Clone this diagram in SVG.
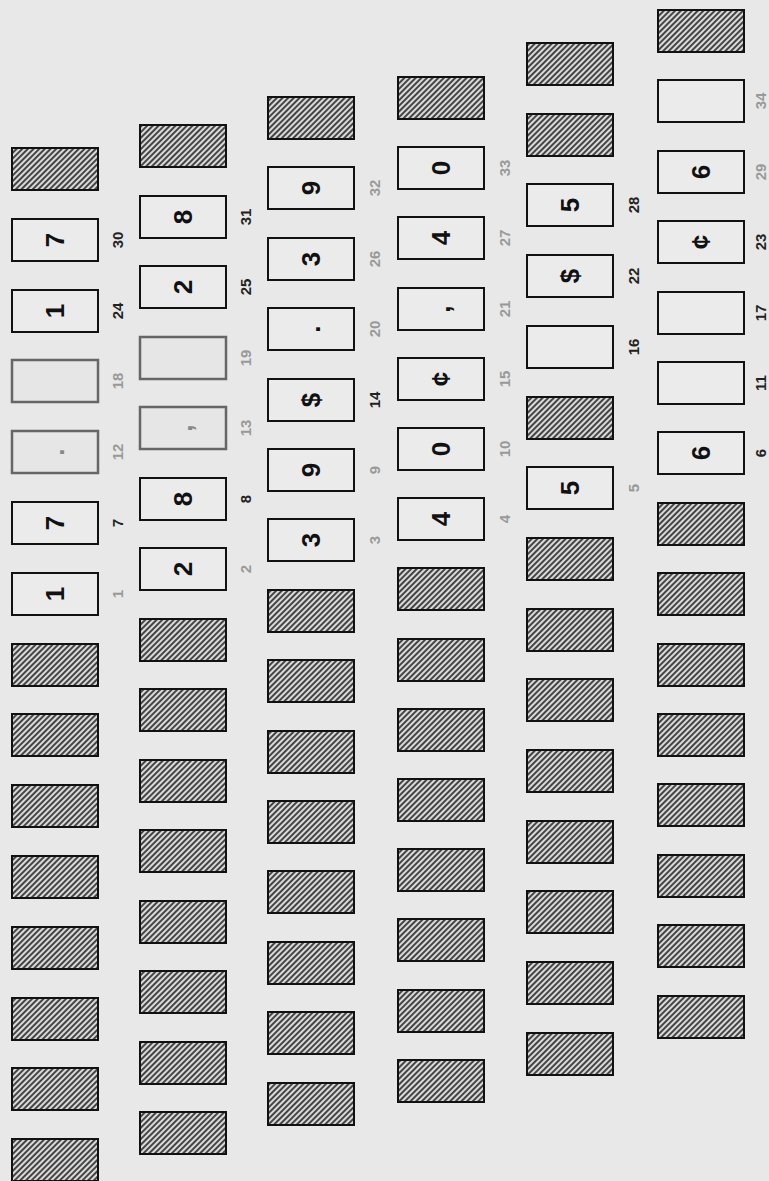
<svg xmlns="http://www.w3.org/2000/svg" width="769" height="1181" viewBox="0 0 769 1181">
<style>
.bg{fill:#e8e8e8}
.h{fill:url(#hatch);stroke:#111;stroke-width:2}
.b{fill:#ebebeb;stroke:#111;stroke-width:2}
.g{fill:#e6e6e6;stroke:#666;stroke-width:2.5}
.d{font-family:"Liberation Sans",Arial,sans-serif;font-weight:bold;font-size:26px;fill:#111;text-anchor:middle;dominant-baseline:central}
.dg{font-family:"Liberation Sans",Arial,sans-serif;font-weight:bold;font-size:26px;fill:#888;text-anchor:middle;dominant-baseline:central}
.l{font-family:"Liberation Sans",Arial,sans-serif;font-weight:bold;font-size:15px;fill:#222;text-anchor:middle;dominant-baseline:central}
.lg{font-family:"Liberation Sans",Arial,sans-serif;font-weight:bold;font-size:15px;fill:#999;text-anchor:middle;dominant-baseline:central}
</style>
<defs>
<pattern id="hatch" patternUnits="userSpaceOnUse" width="4" height="4" patternTransform="rotate(45)">
<rect width="4" height="4" fill="#dadada"/>
<line x1="1" y1="0" x2="1" y2="4" stroke="#2a2a2a" stroke-width="1.7"/>
</pattern>
</defs>
<rect class="bg" x="0" y="0" width="769" height="1181"/>
<g id="connectors"/>

<!-- Column 1 -->
<g id="c1-h0"><rect class="h" x="12" y="148" width="86" height="42"/></g>
<g id="c1-30"><rect class="b" x="12" y="219" width="86" height="42"/><text class="d" x="55" y="240" transform="rotate(-90 55 240)">7</text><text class="l" x="117" y="240" transform="rotate(-90 117 240)">30</text></g>
<g id="c1-24"><rect class="b" x="12" y="290" width="86" height="42"/><text class="d" x="55" y="311" transform="rotate(-90 55 311)">1</text><text class="l" x="117" y="311" transform="rotate(-90 117 311)">24</text></g>
<g id="c1-18"><rect class="g" x="12" y="360" width="86" height="42"/><text class="lg" x="117" y="381" transform="rotate(-90 117 381)">18</text></g>
<g id="c1-12"><rect class="g" x="12" y="431" width="86" height="42"/><text class="dg" x="55" y="452" transform="rotate(-90 55 452)">.</text><text class="lg" x="117" y="452" transform="rotate(-90 117 452)">12</text></g>
<g id="c1-7"><rect class="b" x="12" y="502" width="86" height="42"/><text class="d" x="55" y="523" transform="rotate(-90 55 523)">7</text><text class="l" x="117" y="523" transform="rotate(-90 117 523)">7</text></g>
<g id="c1-1"><rect class="b" x="12" y="573" width="86" height="42"/><text class="d" x="55" y="594" transform="rotate(-90 55 594)">1</text><text class="lg" x="117" y="594" transform="rotate(-90 117 594)">1</text></g>
<g id="c1-h7"><rect class="h" x="12" y="644" width="86" height="42"/></g>
<g id="c1-h8"><rect class="h" x="12" y="714" width="86" height="42"/></g>
<g id="c1-h9"><rect class="h" x="12" y="785" width="86" height="42"/></g>
<g id="c1-h10"><rect class="h" x="12" y="856" width="86" height="42"/></g>
<g id="c1-h11"><rect class="h" x="12" y="927" width="86" height="42"/></g>
<g id="c1-h12"><rect class="h" x="12" y="998" width="86" height="42"/></g>
<g id="c1-h13"><rect class="h" x="12" y="1068" width="86" height="42"/></g>
<g id="c1-h14"><rect class="h" x="12" y="1139" width="86" height="42"/></g>

<!-- Column 2 -->
<g id="c2-h0"><rect class="h" x="140" y="125" width="86" height="42"/></g>
<g id="c2-31"><rect class="b" x="140" y="196" width="86" height="42"/><text class="d" x="183" y="217" transform="rotate(-90 183 217)">8</text><text class="l" x="245" y="217" transform="rotate(-90 245 217)">31</text></g>
<g id="c2-25"><rect class="b" x="140" y="266" width="86" height="42"/><text class="d" x="183" y="287" transform="rotate(-90 183 287)">2</text><text class="l" x="245" y="287" transform="rotate(-90 245 287)">25</text></g>
<g id="c2-19"><rect class="g" x="140" y="337" width="86" height="42"/><text class="lg" x="245" y="358" transform="rotate(-90 245 358)">19</text></g>
<g id="c2-13"><rect class="g" x="140" y="407" width="86" height="42"/><text class="dg" x="183" y="428" transform="rotate(-90 183 428)">,</text><text class="lg" x="245" y="428" transform="rotate(-90 245 428)">13</text></g>
<g id="c2-8"><rect class="b" x="140" y="478" width="86" height="42"/><text class="d" x="183" y="499" transform="rotate(-90 183 499)">8</text><text class="l" x="245" y="499" transform="rotate(-90 245 499)">8</text></g>
<g id="c2-2"><rect class="b" x="140" y="548" width="86" height="42"/><text class="d" x="183" y="569" transform="rotate(-90 183 569)">2</text><text class="lg" x="245" y="569" transform="rotate(-90 245 569)">2</text></g>
<g id="c2-h7"><rect class="h" x="140" y="619" width="86" height="42"/></g>
<g id="c2-h8"><rect class="h" x="140" y="689" width="86" height="42"/></g>
<g id="c2-h9"><rect class="h" x="140" y="760" width="86" height="42"/></g>
<g id="c2-h10"><rect class="h" x="140" y="830" width="86" height="42"/></g>
<g id="c2-h11"><rect class="h" x="140" y="901" width="86" height="42"/></g>
<g id="c2-h12"><rect class="h" x="140" y="971" width="86" height="42"/></g>
<g id="c2-h13"><rect class="h" x="140" y="1042" width="86" height="42"/></g>
<g id="c2-h14"><rect class="h" x="140" y="1112" width="86" height="42"/></g>

<!-- Column 3 -->
<g id="c3-h0"><rect class="h" x="268" y="97" width="86" height="42"/></g>
<g id="c3-32"><rect class="b" x="268" y="167" width="86" height="42"/><text class="d" x="311" y="188" transform="rotate(-90 311 188)">9</text><text class="lg" x="374" y="188" transform="rotate(-90 374 188)">32</text></g>
<g id="c3-26"><rect class="b" x="268" y="238" width="86" height="42"/><text class="d" x="311" y="259" transform="rotate(-90 311 259)">3</text><text class="lg" x="374" y="259" transform="rotate(-90 374 259)">26</text></g>
<g id="c3-20"><rect class="b" x="268" y="308" width="86" height="42"/><text class="d" x="311" y="329" transform="rotate(-90 311 329)">.</text><text class="lg" x="374" y="329" transform="rotate(-90 374 329)">20</text></g>
<g id="c3-14"><rect class="b" x="268" y="379" width="86" height="42"/><text class="d" x="311" y="400" transform="rotate(-90 311 400)">$</text><text class="l" x="374" y="400" transform="rotate(-90 374 400)">14</text></g>
<g id="c3-9"><rect class="b" x="268" y="449" width="86" height="42"/><text class="d" x="311" y="470" transform="rotate(-90 311 470)">9</text><text class="lg" x="374" y="470" transform="rotate(-90 374 470)">9</text></g>
<g id="c3-3"><rect class="b" x="268" y="519" width="86" height="42"/><text class="d" x="311" y="540" transform="rotate(-90 311 540)">3</text><text class="lg" x="374" y="540" transform="rotate(-90 374 540)">3</text></g>
<g id="c3-h7"><rect class="h" x="268" y="590" width="86" height="42"/></g>
<g id="c3-h8"><rect class="h" x="268" y="660" width="86" height="42"/></g>
<g id="c3-h9"><rect class="h" x="268" y="731" width="86" height="42"/></g>
<g id="c3-h10"><rect class="h" x="268" y="801" width="86" height="42"/></g>
<g id="c3-h11"><rect class="h" x="268" y="871" width="86" height="42"/></g>
<g id="c3-h12"><rect class="h" x="268" y="942" width="86" height="42"/></g>
<g id="c3-h13"><rect class="h" x="268" y="1012" width="86" height="42"/></g>
<g id="c3-h14"><rect class="h" x="268" y="1083" width="86" height="42"/></g>

<!-- Column 4 -->
<g id="c4-h0"><rect class="h" x="398" y="77" width="86" height="42"/></g>
<g id="c4-33"><rect class="b" x="398" y="147" width="86" height="42"/><text class="d" x="441" y="168" transform="rotate(-90 441 168)">0</text><text class="lg" x="504" y="168" transform="rotate(-90 504 168)">33</text></g>
<g id="c4-27"><rect class="b" x="398" y="217" width="86" height="42"/><text class="d" x="441" y="238" transform="rotate(-90 441 238)">4</text><text class="lg" x="504" y="238" transform="rotate(-90 504 238)">27</text></g>
<g id="c4-21"><rect class="b" x="398" y="288" width="86" height="42"/><text class="d" x="441" y="309" transform="rotate(-90 441 309)">,</text><text class="lg" x="504" y="309" transform="rotate(-90 504 309)">21</text></g>
<g id="c4-15"><rect class="b" x="398" y="358" width="86" height="42"/><text class="d" x="441" y="379" transform="rotate(-90 441 379)">¢</text><text class="lg" x="504" y="379" transform="rotate(-90 504 379)">15</text></g>
<g id="c4-10"><rect class="b" x="398" y="428" width="86" height="42"/><text class="d" x="441" y="449" transform="rotate(-90 441 449)">0</text><text class="lg" x="504" y="449" transform="rotate(-90 504 449)">10</text></g>
<g id="c4-4"><rect class="b" x="398" y="498" width="86" height="42"/><text class="d" x="441" y="519" transform="rotate(-90 441 519)">4</text><text class="lg" x="504" y="519" transform="rotate(-90 504 519)">4</text></g>
<g id="c4-h7"><rect class="h" x="398" y="568" width="86" height="42"/></g>
<g id="c4-h8"><rect class="h" x="398" y="639" width="86" height="42"/></g>
<g id="c4-h9"><rect class="h" x="398" y="709" width="86" height="42"/></g>
<g id="c4-h10"><rect class="h" x="398" y="779" width="86" height="42"/></g>
<g id="c4-h11"><rect class="h" x="398" y="849" width="86" height="42"/></g>
<g id="c4-h12"><rect class="h" x="398" y="919" width="86" height="42"/></g>
<g id="c4-h13"><rect class="h" x="398" y="990" width="86" height="42"/></g>
<g id="c4-h14"><rect class="h" x="398" y="1060" width="86" height="42"/></g>

<!-- Column 5 -->
<g id="c5-h0"><rect class="h" x="527" y="43" width="86" height="42"/></g>
<g id="c5-h1"><rect class="h" x="527" y="114" width="86" height="42"/></g>
<g id="c5-28"><rect class="b" x="527" y="184" width="86" height="42"/><text class="d" x="570" y="205" transform="rotate(-90 570 205)">5</text><text class="l" x="633" y="205" transform="rotate(-90 633 205)">28</text></g>
<g id="c5-22"><rect class="b" x="527" y="255" width="86" height="42"/><text class="d" x="570" y="276" transform="rotate(-90 570 276)">$</text><text class="l" x="633" y="276" transform="rotate(-90 633 276)">22</text></g>
<g id="c5-16"><rect class="b" x="527" y="326" width="86" height="42"/><text class="l" x="633" y="347" transform="rotate(-90 633 347)">16</text></g>
<g id="c5-h5"><rect class="h" x="527" y="397" width="86" height="42"/></g>
<g id="c5-5"><rect class="b" x="527" y="467" width="86" height="42"/><text class="d" x="570" y="488" transform="rotate(-90 570 488)">5</text><text class="lg" x="633" y="488" transform="rotate(-90 633 488)">5</text></g>
<g id="c5-h7"><rect class="h" x="527" y="538" width="86" height="42"/></g>
<g id="c5-h8"><rect class="h" x="527" y="609" width="86" height="42"/></g>
<g id="c5-h9"><rect class="h" x="527" y="679" width="86" height="42"/></g>
<g id="c5-h10"><rect class="h" x="527" y="750" width="86" height="42"/></g>
<g id="c5-h11"><rect class="h" x="527" y="821" width="86" height="42"/></g>
<g id="c5-h12"><rect class="h" x="527" y="891" width="86" height="42"/></g>
<g id="c5-h13"><rect class="h" x="527" y="962" width="86" height="42"/></g>
<g id="c5-h14"><rect class="h" x="527" y="1033" width="86" height="42"/></g>

<!-- Column 6 -->
<g id="c6-h0"><rect class="h" x="658" y="10" width="86" height="42"/></g>
<g id="c6-34"><rect class="b" x="658" y="80" width="86" height="42"/><text class="lg" x="760" y="101" transform="rotate(-90 760 101)">34</text></g>
<g id="c6-29"><rect class="b" x="658" y="151" width="86" height="42"/><text class="d" x="701" y="172" transform="rotate(-90 701 172)">6</text><text class="lg" x="760" y="172" transform="rotate(-90 760 172)">29</text></g>
<g id="c6-23"><rect class="b" x="658" y="221" width="86" height="42"/><text class="d" x="701" y="242" transform="rotate(-90 701 242)">¢</text><text class="l" x="760" y="242" transform="rotate(-90 760 242)">23</text></g>
<g id="c6-17"><rect class="b" x="658" y="292" width="86" height="42"/><text class="l" x="760" y="313" transform="rotate(-90 760 313)">17</text></g>
<g id="c6-11"><rect class="b" x="658" y="362" width="86" height="42"/><text class="l" x="760" y="383" transform="rotate(-90 760 383)">11</text></g>
<g id="c6-6"><rect class="b" x="658" y="432" width="86" height="42"/><text class="d" x="701" y="453" transform="rotate(-90 701 453)">6</text><text class="l" x="760" y="453" transform="rotate(-90 760 453)">6</text></g>
<g id="c6-h7"><rect class="h" x="658" y="503" width="86" height="42"/></g>
<g id="c6-h8"><rect class="h" x="658" y="573" width="86" height="42"/></g>
<g id="c6-h9"><rect class="h" x="658" y="644" width="86" height="42"/></g>
<g id="c6-h10"><rect class="h" x="658" y="714" width="86" height="42"/></g>
<g id="c6-h11"><rect class="h" x="658" y="784" width="86" height="42"/></g>
<g id="c6-h12"><rect class="h" x="658" y="855" width="86" height="42"/></g>
<g id="c6-h13"><rect class="h" x="658" y="925" width="86" height="42"/></g>
<g id="c6-h14"><rect class="h" x="658" y="996" width="86" height="42"/></g>
</svg>
